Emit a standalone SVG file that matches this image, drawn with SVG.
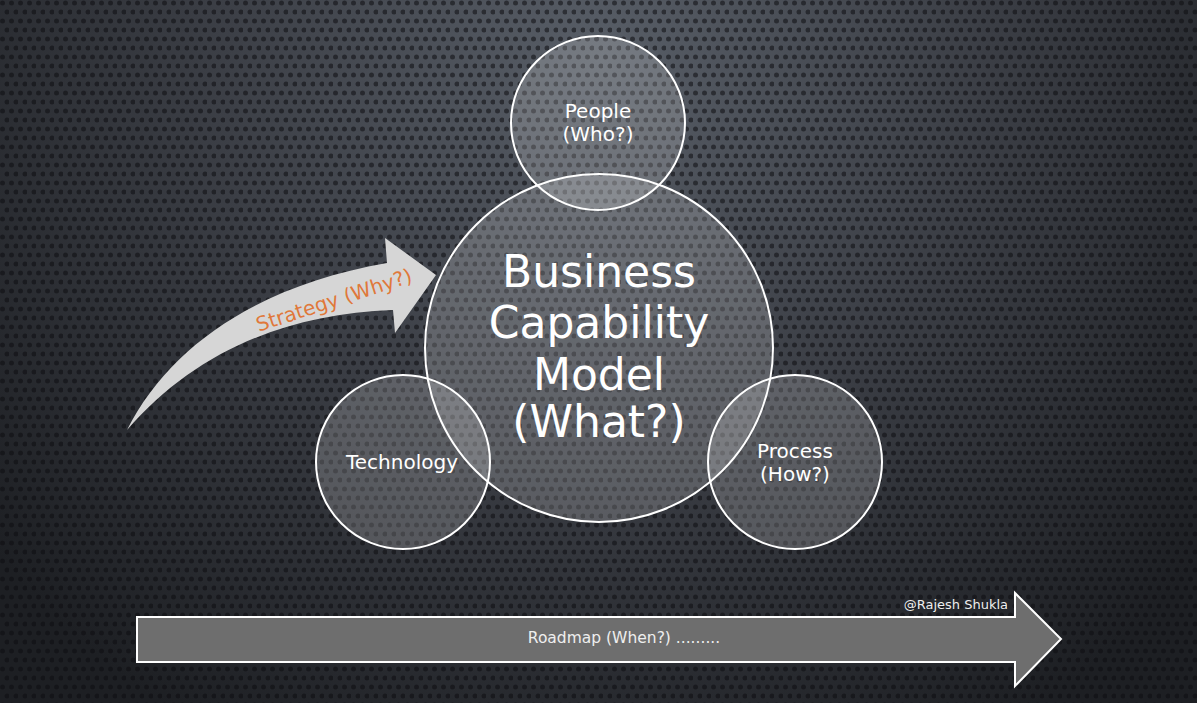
<svg xmlns="http://www.w3.org/2000/svg" width="1197" height="703" viewBox="0 0 1197 703">
<style>
.node{fill:#ffffff;fill-opacity:0.18;stroke:#ffffff;stroke-width:2}
.t{font-family:"DejaVu Sans","Liberation Sans",sans-serif;fill:#ffffff;text-anchor:middle}
.s{font-size:20px}
.big{font-size:44px}
</style>
<defs>
<radialGradient id="bg" cx="600" cy="60" r="780" gradientUnits="userSpaceOnUse">
<stop offset="0" stop-color="#585e67"/>
<stop offset="0.5" stop-color="#3b3e45"/>
<stop offset="1" stop-color="#1d1f23"/>
</radialGradient>
<pattern id="dots" width="9" height="18" patternUnits="userSpaceOnUse">
<circle cx="2.5" cy="3" r="2.5" fill="#0c0d10" fill-opacity="0.55"/>
<circle cx="7" cy="12" r="2.5" fill="#0c0d10" fill-opacity="0.55"/>
</pattern>
</defs>
<rect width="1197" height="703" fill="url(#bg)"/>
<rect width="1197" height="703" fill="url(#dots)"/>

<g id="connectors">
<g id="strategy">
<path d="M127,430 C170,345 260,285 387,263 L385,238 L436,275 L395,333 L393,310 C285,314 195,352 127,430 Z" fill="#d6d6d6"/>
<text class="t" x="334" y="307" transform="rotate(-18 334 300)" style="fill:#e0783a;font-size:20px">Strategy (Why?)</text>
</g>
<g id="roadmap">
<path d="M137,617 L1015,617 L1015,593 L1061,639 L1015,686 L1015,662 L137,662 Z" fill="#6e6e6e" stroke="#ffffff" stroke-width="2"/>
<text class="t" x="624" y="643" style="font-size:15.5px;fill:#eeeeee">Roadmap (When?) .........</text>
<text class="t" x="1008" y="609" style="font-size:13px;fill:#eeeeee;text-anchor:end">@Rajesh Shukla</text>
</g>
</g>

<g id="people">
<circle class="node" cx="598" cy="123" r="87"/>
<text class="t s" x="598" y="118">People</text>
<text class="t s" x="598" y="141">(Who?)</text>
</g>
<g id="bcm">
<circle class="node" cx="599" cy="348" r="174"/>
<text class="t big" x="599" y="287">Business</text>
<text class="t big" x="599" y="338">Capability</text>
<text class="t big" x="599" y="390">Model</text>
<text class="t big" x="599" y="437">(What?)</text>
</g>
<g id="technology">
<circle class="node" cx="403" cy="462" r="87"/>
<text class="t s" x="402" y="469">Technology</text>
</g>
<g id="process">
<circle class="node" cx="795" cy="462" r="87"/>
<text class="t s" x="795" y="458">Process</text>
<text class="t s" x="795" y="481">(How?)</text>
</g>
</svg>
